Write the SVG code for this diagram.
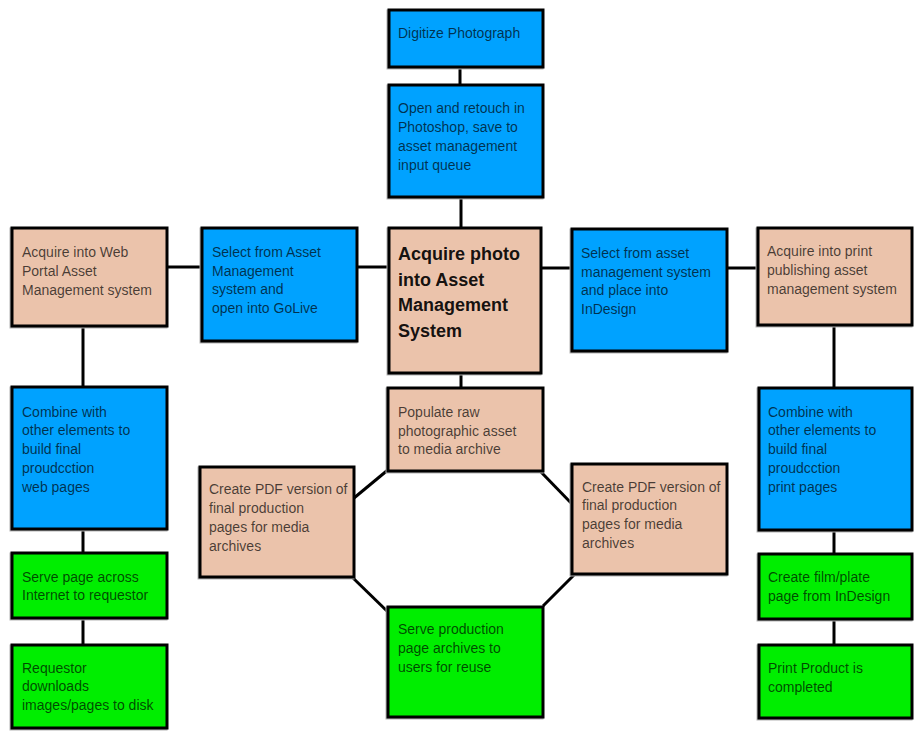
<svg xmlns="http://www.w3.org/2000/svg" width="914" height="734" viewBox="0 0 914 734">
<style>
.b{fill:#00a2ff}.t{fill:#ebc3ab}.g{fill:#00ee00}
rect.n{stroke:#000;stroke-width:3}
rect.s{fill:none;stroke:#b4b4b4;stroke-width:3}
text{font-family:"Liberation Sans",Arial,sans-serif;font-size:14px;fill:#000;fill-opacity:0.7}
text.h{font-size:18px;font-weight:bold;fill-opacity:0.92}
#edges line{stroke:#000;stroke-width:3}
</style>
<rect width="914" height="734" fill="#fff"/>
<g id="edges">
<line x1="460" y1="67" x2="460" y2="85"/>
<line x1="461" y1="197" x2="461" y2="228"/>
<line x1="461" y1="373" x2="461" y2="388"/>
<line x1="167" y1="267" x2="202" y2="267"/>
<line x1="357" y1="267" x2="389" y2="267"/>
<line x1="541" y1="268" x2="572" y2="268"/>
<line x1="727" y1="268" x2="758" y2="268"/>
<line x1="83" y1="326" x2="83" y2="387"/>
<line x1="83" y1="529" x2="83" y2="553"/>
<line x1="83" y1="618" x2="83" y2="645"/>
<line x1="834" y1="325" x2="834" y2="388"/>
<line x1="834" y1="530" x2="834" y2="554"/>
<line x1="834" y1="619" x2="834" y2="645"/>
<line x1="354" y1="498" x2="389" y2="469"/>
<line x1="352" y1="577" x2="389" y2="613"/>
<line x1="541" y1="472" x2="573" y2="505"/>
<line x1="575" y1="574" x2="543" y2="606"/>
</g>
<g id="digitize"><rect class="s" x="388" y="11" width="154" height="57"/><rect class="n b" x="389" y="10" width="154" height="57"/>
<text x="398" y="38">Digitize Photograph</text></g>
<g id="retouch"><rect class="s" x="388" y="86" width="154" height="112"/><rect class="n b" x="389" y="85" width="154" height="112"/>
<text x="398" y="113">Open and retouch in</text><text x="398" y="132">Photoshop, save to</text><text x="398" y="151">asset management</text><text x="398" y="170">input queue</text></g>
<g id="central"><rect class="s" x="388" y="229" width="152" height="145"/><rect class="n t" x="389" y="228" width="152" height="145"/>
<text class="h" x="398" y="260">Acquire photo</text><text class="h" x="398" y="286">into Asset</text><text class="h" x="398" y="311">Management</text><text class="h" x="398" y="337">System</text></g>
<g id="select-golive"><rect class="s" x="201" y="229" width="155" height="113"/><rect class="n b" x="202" y="228" width="155" height="113"/>
<text x="212" y="257">Select from Asset</text><text x="212" y="276">Management</text><text x="212" y="294">system and</text><text x="212" y="313">open into GoLive</text></g>
<g id="acquire-web"><rect class="s" x="11" y="229" width="155" height="98"/><rect class="n t" x="12" y="228" width="155" height="98"/>
<text x="22" y="257">Acquire into Web</text><text x="22" y="276">Portal Asset</text><text x="22" y="295">Management system</text></g>
<g id="select-indesign"><rect class="s" x="571" y="230" width="155" height="122"/><rect class="n b" x="572" y="229" width="155" height="122"/>
<text x="581" y="258">Select from asset</text><text x="581" y="277">management system</text><text x="581" y="295">and place into</text><text x="581" y="314">InDesign</text></g>
<g id="acquire-print"><rect class="s" x="757" y="229" width="154" height="97"/><rect class="n t" x="758" y="228" width="154" height="97"/>
<text x="767" y="256">Acquire into print</text><text x="767" y="275">publishing asset</text><text x="767" y="294">management system</text></g>
<g id="combine-web"><rect class="s" x="11" y="388" width="155" height="142"/><rect class="n b" x="12" y="387" width="155" height="142"/>
<text x="22" y="417">Combine with</text><text x="22" y="435">other elements to</text><text x="22" y="454">build final</text><text x="22" y="473">proudcction</text><text x="22" y="492">web pages</text></g>
<g id="serve-page"><rect class="s" x="11" y="554" width="155" height="65"/><rect class="n g" x="12" y="553" width="155" height="65"/>
<text x="22" y="582">Serve page across</text><text x="22" y="600">Internet to requestor</text></g>
<g id="requestor"><rect class="s" x="11" y="646" width="155" height="83"/><rect class="n g" x="12" y="645" width="155" height="83"/>
<text x="22" y="673">Requestor</text><text x="22" y="691">downloads</text><text x="22" y="710">images/pages to disk</text></g>
<g id="combine-print"><rect class="s" x="758" y="389" width="153" height="142"/><rect class="n b" x="759" y="388" width="153" height="142"/>
<text x="768" y="417">Combine with</text><text x="768" y="435">other elements to</text><text x="768" y="454">build final</text><text x="768" y="473">proudcction</text><text x="768" y="492">print pages</text></g>
<g id="film"><rect class="s" x="758" y="555" width="153" height="65"/><rect class="n g" x="759" y="554" width="153" height="65"/>
<text x="768" y="582">Create film/plate</text><text x="768" y="601">page from InDesign</text></g>
<g id="print-product"><rect class="s" x="758" y="646" width="153" height="73"/><rect class="n g" x="759" y="645" width="153" height="73"/>
<text x="768" y="673">Print Product is</text><text x="768" y="692">completed</text></g>
<g id="populate"><rect class="s" x="387" y="389" width="155" height="83"/><rect class="n t" x="388" y="388" width="155" height="83"/>
<text x="398" y="417">Populate raw</text><text x="398" y="436">photographic asset</text><text x="398" y="454">to media archive</text></g>
<g id="pdf-left"><rect class="s" x="199" y="468" width="154" height="110"/><rect class="n t" x="200" y="467" width="154" height="110"/>
<text x="209" y="494">Create PDF version of</text><text x="209" y="513">final production</text><text x="209" y="532">pages for media</text><text x="209" y="551">archives</text></g>
<g id="pdf-right"><rect class="s" x="571" y="465" width="155" height="110"/><rect class="n t" x="572" y="464" width="155" height="110"/>
<text x="582" y="492">Create PDF version of</text><text x="582" y="510">final production</text><text x="582" y="529">pages for media</text><text x="582" y="548">archives</text></g>
<g id="serve-production"><rect class="s" x="387" y="608" width="155" height="110"/><rect class="n g" x="388" y="607" width="155" height="110"/>
<text x="398" y="634">Serve production</text><text x="398" y="653">page archives to</text><text x="398" y="672">users for reuse</text></g>
</svg>
